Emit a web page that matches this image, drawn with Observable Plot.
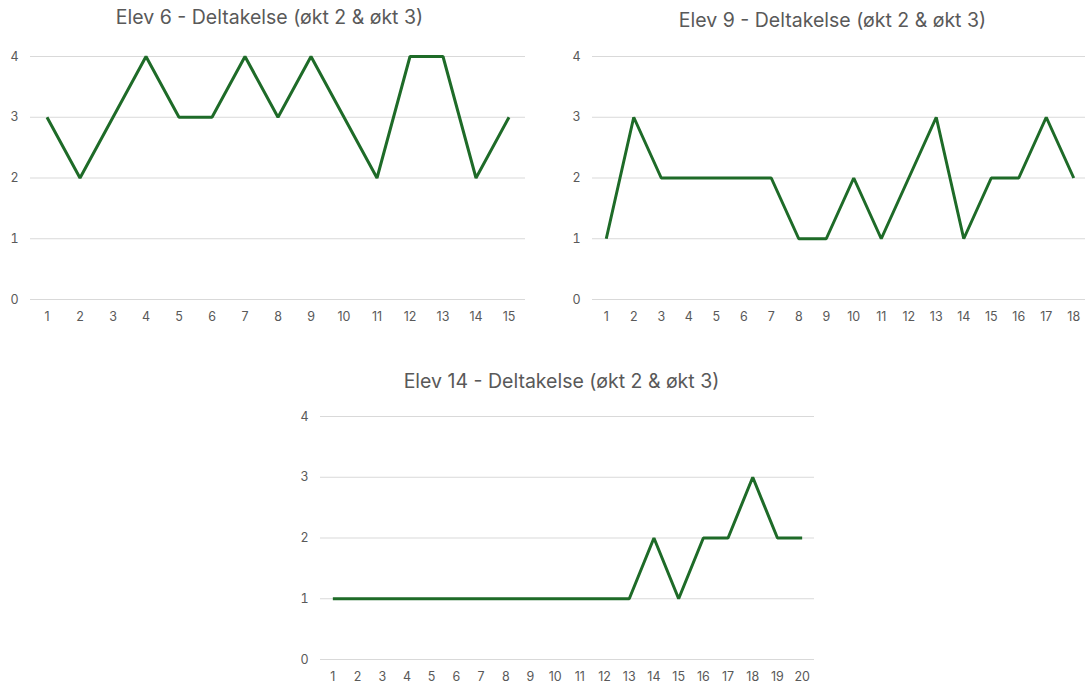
<!DOCTYPE html>
<html>
<head>
<meta charset="utf-8">
<script src="https://cdn.jsdelivr.net/npm/d3@7"></script>
<script src="https://cdn.jsdelivr.net/npm/@observablehq/plot@0.6"></script>
<style>
  html, body { margin: 0; padding: 0; background: #fff; }
  #root { position: relative; width: 1085px; height: 684px; overflow: hidden; font-family: Inter, "Open Sans", sans-serif; }
  .title { position: absolute; width: 545px; text-align: center; font-size: 19.5px; color: #595959; white-space: nowrap; }
  .chart { position: absolute; max-width: none !important; }
</style>
</head>
<body>
<div id="root"></div>
<script>
const titles = [
  "Elev 6 - Deltakelse (økt 2 & økt 3)",
  "Elev 9 - Deltakelse (økt 2 & økt 3)",
  "Elev 14 - Deltakelse (økt 2 & økt 3)"
];
const elev6 = [3,2,3,4,3,3,4,3,4,3,2,4,4,2,3];
const elev9 = [1,3,2,2,2,2,2,1,1,2,1,2,3,1,2,2,3,2];
const elev14 = [1,1,1,1,1,1,1,1,1,1,1,1,1,2,1,2,2,3,2,2];
const yTicks = [0,1,2,3,4];

const root = document.getElementById("root");

const layouts = [
  {values: elev6, left: 0, top: 40, width: 545, mr: 20, titleLeft: -3, titleTop: 5},
  {values: elev9, left: 562, top: 40, width: 525, mr: 0, titleLeft: 560, titleTop: 8},
  {values: elev14, left: 290, top: 400, width: 545, mr: 21, titleLeft: 289, titleTop: 369}
];

layouts.forEach((L, i) => {
  const data = L.values.map((v, j) => ({x: String(j + 1), y: v}));
  const t = document.createElement("div");
  t.className = "title";
  t.textContent = titles[i];
  t.style.left = L.titleLeft + "px";
  t.style.top = L.titleTop + "px";
  root.appendChild(t);

  const chart = Plot.plot({
    width: L.width,
    height: 295,
    marginLeft: 30,
    marginRight: L.mr,
    marginTop: 16,
    marginBottom: 36,
    style: {fontFamily: "Inter, 'Open Sans', sans-serif", fontSize: "12.5px", color: "#595959", background: "transparent", overflow: "visible"},
    x: {type: "point", domain: data.map(d => d.x), padding: 0.5, round: false, label: null},
    y: {domain: [0, 4], ticks: yTicks, label: null},
    marks: [
      Plot.ruleY(yTicks, {stroke: "#d9d9d9", strokeWidth: 1}),
      Plot.axisX({tickSize: 0, tickPadding: 13, fontSize: 12.5, fill: "#595959"}),
      Plot.axisY({ticks: yTicks, tickFormat: "d", tickSize: 0, tickPadding: 12, fontSize: 12.5, fill: "#595959"}),
      Plot.line(data, {x: "x", y: "y", stroke: "#1e6b28", strokeWidth: 3, strokeLinejoin: "miter", strokeLinecap: "butt"})
    ]
  });
  chart.classList.add("chart");
  chart.style.left = L.left + "px";
  chart.style.top = L.top + "px";
  root.appendChild(chart);
});
</script>
</body>
</html>
